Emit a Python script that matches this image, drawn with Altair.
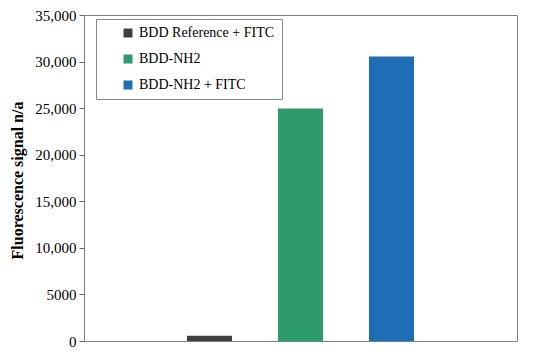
import altair as alt
import pandas as pd

categories = ["BDD Reference + FITC", "BDD-NH2", "BDD-NH2 + FITC"]
values = [560, 24950, 30550]
colors = ["#404040", "#2e9c6a", "#1f6db4"]
y_ticks = [0, 5000, 10000, 15000, 20000, 25000, 30000, 35000]

df = pd.DataFrame({"cat": categories, "val": values})

FONT = "Liberation Serif"

chart = alt.Chart(df).mark_bar().encode(
    x=alt.X("cat:N", sort=categories,
            scale=alt.Scale(paddingInner=0.505, paddingOuter=0, range=[103, 330]),
            axis=None),
    y=alt.Y("val:Q",
            scale=alt.Scale(domain=[0, 35000], nice=False),
            axis=alt.Axis(
                values=y_ticks,
                labelExpr="datum.value == 5000 ? '5000' : format(datum.value, ',')",
                title="Fluorescence signal n/a",
                titleFont=FONT, titleFontSize=16, titleFontWeight="bold",
                titleColor="#000000",
                titleX=-59, titleY=165, titleBaseline="bottom", titleAngle=270,
                labelFont=FONT, labelFontSize=15, labelColor="#000000",
                labelPadding=3,
                tickSize=5, tickColor="#666666",
                domain=False, grid=False)),
    color=alt.Color("cat:N",
                    scale=alt.Scale(domain=categories, range=colors),
                    legend=alt.Legend(
                        title=None, orient="none", legendX=12, legendY=4,
                        fillColor="#ffffff", strokeColor="#8a8a8a",
                        padding=7, symbolType="square", symbolSize=81,
                        symbolOffset=18, symbolStrokeWidth=0,
                        labelFont=FONT, labelFontSize=14, labelColor="#000000",
                        labelOffset=4, rowPadding=12,
                        labelExpr="datum.label == 'BDD Reference + FITC' ? datum.label + '\u00a0\u00a0\u00a0\u00a0\u00a0\u00a0' : datum.label")),
).properties(
    width=433, height=326,
    autosize=alt.AutoSizeParams(type="none"),
    padding={"left": 76, "top": 7, "right": 25, "bottom": 7},
).configure_view(
    stroke="#7f7f7f", strokeWidth=1
)

chart.save("out.html", embed_options={"renderer": "svg", "actions": False})
